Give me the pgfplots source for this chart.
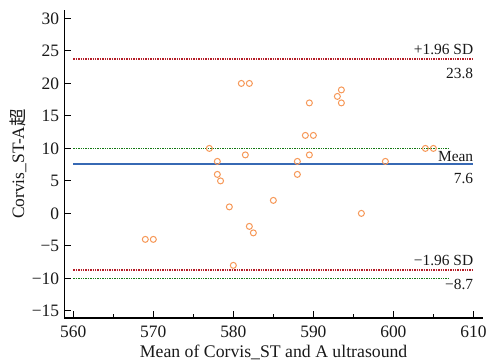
\documentclass[border=0pt]{standalone}
\usepackage{pgfplots}
\pgfplotsset{compat=1.18}
\usepackage{fontspec}
\setmainfont{Liberation Serif}
\newfontfamily\cjk{Noto Sans CJK SC}
\definecolor{ptorange}{RGB}{246,152,88}
\definecolor{limred}{RGB}{180,30,40}
\definecolor{refgreen}{RGB}{20,120,20}
\definecolor{meanblue}{RGB}{55,105,180}
\begin{document}
\begin{tikzpicture}
\path[use as bounding box] (-64.3bp,-45bp) rectangle (426.7bp,318bp);
\begin{axis}[
  scale only axis,
  width=418.7bp, height=308bp,
  xmin=558.875, xmax=611.2,
  ymin=-16.1, ymax=31.3,
  axis x line*=bottom, axis y line*=left,
  axis line style={black, line width=1.2bp},
  every tick/.style={black, line width=1bp},
  tick align=inside,
  major tick length=7bp,
  minor tick length=4bp,
  xtick={560,570,...,610},
  minor x tick num=1,
  ytick={-15,-10,...,30},
  yticklabels={−15,−10,−5,0,5,10,15,20,25,30},
  /pgf/number format/assume math mode=true,
  /pgf/number format/1000 sep={},
  ticklabel style={font=\fontsize{17.5}{19}\selectfont, text=black!90},
  xticklabel style={anchor=north, inner sep=0pt, yshift=-8bp},
  yticklabel style={anchor=east, inner sep=0pt, xshift=-5bp},
  xlabel={Mean of Corvis\_ST and A ultrasound},
  ylabel={Corvis\_ST-A{\cjk 超}},
  xlabel style={at={(axis description cs:0.5,0)}, anchor=base, yshift=-39bp, inner sep=0pt, font=\fontsize{17.8}{19}\selectfont, text=black!90},
  ylabel style={at={(axis description cs:-0.1106,0.5)}, anchor=center, inner sep=0pt, font=\fontsize{17.5}{19}\selectfont, text=black!90},
  clip=false,
]
\addplot[limred, line width=1.8bp, dash pattern=on 1.5bp off 0.9bp] coordinates {(560,23.8) (610,23.8)};
\addplot[limred, line width=1.8bp, dash pattern=on 1.5bp off 0.9bp] coordinates {(560,-8.7) (610,-8.7)};
\addplot[refgreen, line width=1.7bp, dash pattern=on 1.5bp off 0.9bp] coordinates {(560,10) (607,10)};
\addplot[refgreen, line width=1.7bp, dash pattern=on 1.5bp off 0.9bp] coordinates {(560,-10) (607,-10)};
\addplot[meanblue, line width=2.2bp] coordinates {(560,7.6) (610,7.6)};
\addplot[only marks, mark=o, mark size=3bp, mark options={ptorange, line width=1bp}] coordinates {
(569,-4) (570,-4) (577,10) (578,8) (578,6) (578.4,5) (579.5,1) (580,-8)
(581,20) (582,20) (581.5,9) (582,-2) (582.5,-3) (585,2) (588,8) (588,6)
(589,12) (590,12) (589.5,9) (589.5,17) (593,18) (593.5,19) (593.5,17)
(596,0) (599,8) (604,10) (605,10)};
\begin{scope}[every node/.style={inner sep=0pt, font=\fontsize{15.5}{17}\selectfont, text=black!90}]
\node[anchor=south east, yshift=3.5bp] at (axis cs:610,23.8) {+1.96 SD};
\node[anchor=north east, yshift=-9bp] at (axis cs:610,23.8) {23.8};
\node[anchor=south east, yshift=2.5bp] at (axis cs:610,7.6) {Mean};
\node[anchor=north east, yshift=-9bp] at (axis cs:610,7.6) {7.6};
\node[anchor=south east, yshift=4bp] at (axis cs:610,-8.7) {−1.96 SD};
\node[anchor=north east, yshift=-9bp] at (axis cs:610,-8.7) {−8.7};
\end{scope}
\end{axis}
\end{tikzpicture}
\end{document}
